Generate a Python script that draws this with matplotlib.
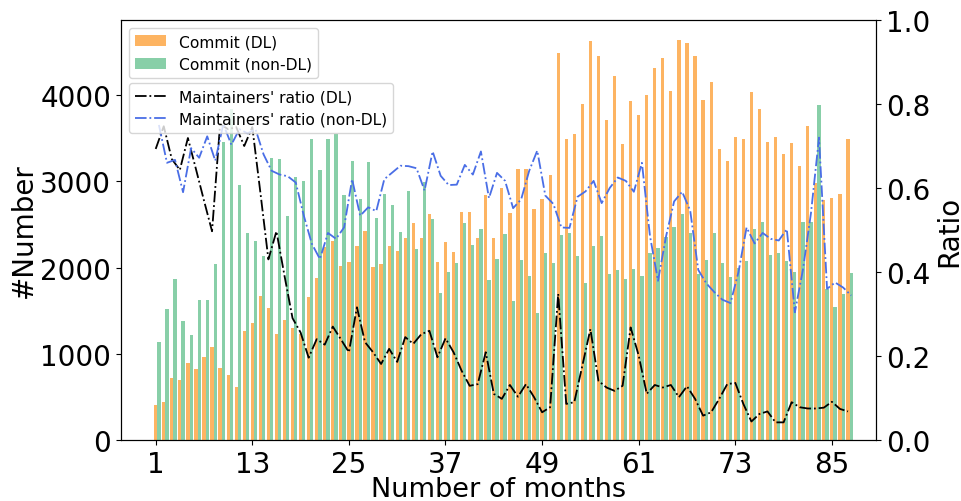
import numpy as np
from matplotlib import pyplot as plt

months = np.arange(1, 88)

commit_dl = [406, 437, 719, 696, 893, 823, 962, 1078, 835, 754,
             614, 1264, 1357, 1673, 1530, 1229, 1391, 1300, 1230, 1660,
             1875, 2234, 2311, 2014, 2060, 2250, 2427, 2010, 2040, 2250,
             2190, 2340, 2516, 2340, 2620, 2060, 2295, 2180, 2647, 2647,
             2346, 2840, 2342, 2922, 2632, 3142, 3142, 2678, 2794, 3074,
             4490, 3490, 3548, 3896, 4626, 4452, 3712, 4220, 3432, 3932,
             3768, 4000, 4310, 4427, 4048, 4638, 4603, 4452, 3946, 4152,
             3374, 3235, 3513, 3490, 4035, 3840, 3457, 3515, 3316, 3443,
             3179, 3642, 2985, 2783, 2806, 2854, 3492]

commit_nondl = [1140, 1519, 1867, 1380, 1217, 1623, 1623, 2040, 3459, 3838,
                2956, 2400, 2309, 2130, 3270, 3258, 2600, 3050, 3003, 3490,
                3130, 3490, 3553, 2840, 3237, 2794, 3219, 2572, 2852, 2725,
                2415, 2887, 2214, 2991, 2562, 1704, 1950, 2050, 2516, 2261,
                2446, 1857, 2099, 2388, 1612, 2089, 1903, 1472, 2168, 2052,
                2377, 2400, 2133, 1820, 2249, 2365, 1925, 1971, 1867, 1983,
                1901, 2168, 2226, 2350, 2470, 2620, 2400, 1920, 2087, 2400,
                2058, 1895, 1990, 2070, 2452, 2522, 2140, 2174, 2070, 1943,
                2527, 2527, 3886, 1746, 1544, 1693, 1936]

ratio_dl = [0.693, 0.747, 0.669, 0.643, 0.719, 0.645, 0.57, 0.497, 0.752, 0.74,
            0.745, 0.70, 0.745, 0.59, 0.43, 0.497, 0.391, 0.29, 0.256, 0.196,
            0.240, 0.227, 0.27, 0.240, 0.209, 0.316, 0.233, 0.209, 0.181, 0.217,
            0.186, 0.245, 0.229, 0.252, 0.260, 0.197, 0.242, 0.209, 0.165, 0.129,
            0.133, 0.209, 0.110, 0.098, 0.131, 0.103, 0.133, 0.102, 0.066, 0.078,
            0.348, 0.086, 0.090, 0.177, 0.264, 0.141, 0.125, 0.117, 0.129, 0.268,
            0.201, 0.110, 0.131, 0.125, 0.131, 0.102, 0.128, 0.098, 0.058, 0.066,
            0.098, 0.133, 0.136, 0.086, 0.044, 0.062, 0.068, 0.042, 0.042, 0.090,
            0.078, 0.075, 0.075, 0.077, 0.091, 0.074, 0.068]

ratio_nondl = [0.75, 0.66, 0.667, 0.59, 0.695, 0.672, 0.723, 0.665, 0.752, 0.703,
               0.74, 0.73, 0.74, 0.68, 0.641, 0.632, 0.628, 0.613, 0.534, 0.467,
               0.431, 0.493, 0.479, 0.506, 0.621, 0.534, 0.554, 0.545, 0.621, 0.637,
               0.653, 0.652, 0.647, 0.594, 0.687, 0.629, 0.607, 0.608, 0.655, 0.632,
               0.687, 0.576, 0.636, 0.617, 0.552, 0.573, 0.641, 0.689, 0.582, 0.562,
               0.506, 0.505, 0.579, 0.592, 0.617, 0.564, 0.600, 0.625, 0.617, 0.591,
               0.660, 0.486, 0.379, 0.485, 0.568, 0.591, 0.546, 0.405, 0.373, 0.352,
               0.334, 0.326, 0.40, 0.506, 0.468, 0.493, 0.479, 0.475, 0.502, 0.304,
               0.405, 0.54, 0.72, 0.36, 0.375, 0.363, 0.344]

xticks = list(range(1, 88, 12))

fig = plt.figure(figsize=(9.62, 5.02), dpi=100)
ax1 = fig.add_axes([121 / 962, 61 / 502, 755 / 962, 420 / 502])

w = 0.4
ax1.bar(months, commit_dl, width=w, color='#fdb462', label='Commit (DL)')
ax1.bar(months + w, commit_nondl, width=w, color='#88cfa8', label='Commit (non-DL)')
ax1.set_xlim(-3.31, 90.48)
ax1.set_ylim(0, 4870)
ax1.set_xticks(xticks)
ax1.set_yticks([0, 1000, 2000, 3000, 4000])
ax1.tick_params(labelsize=20)
ax1.set_xlabel('Number of months', fontsize=19.5, labelpad=-1.5)
ax1.set_ylabel('#Number', fontsize=20, labelpad=2)
ax1.legend(loc='upper left', fontsize=11.2)

ax2 = ax1.twinx()
ax2.plot(months, ratio_dl, '-.', color='black', lw=1.3, label="Maintainers' ratio (DL)")
ax2.plot(months + w, ratio_nondl, '-.', color='#4a6ee6', lw=1.3, label="Maintainers' ratio (non-DL)")
ax2.set_ylim(0, 1)
ax2.set_yticks([0.0, 0.2, 0.4, 0.6, 0.8, 1.0])
ax2.tick_params(labelsize=20)
ax2.set_ylabel('Ratio', fontsize=20, labelpad=4)
ax2.legend(loc='upper left', bbox_to_anchor=(0, 0.869), fontsize=11.2)

plt.savefig('out.png', dpi=100)
